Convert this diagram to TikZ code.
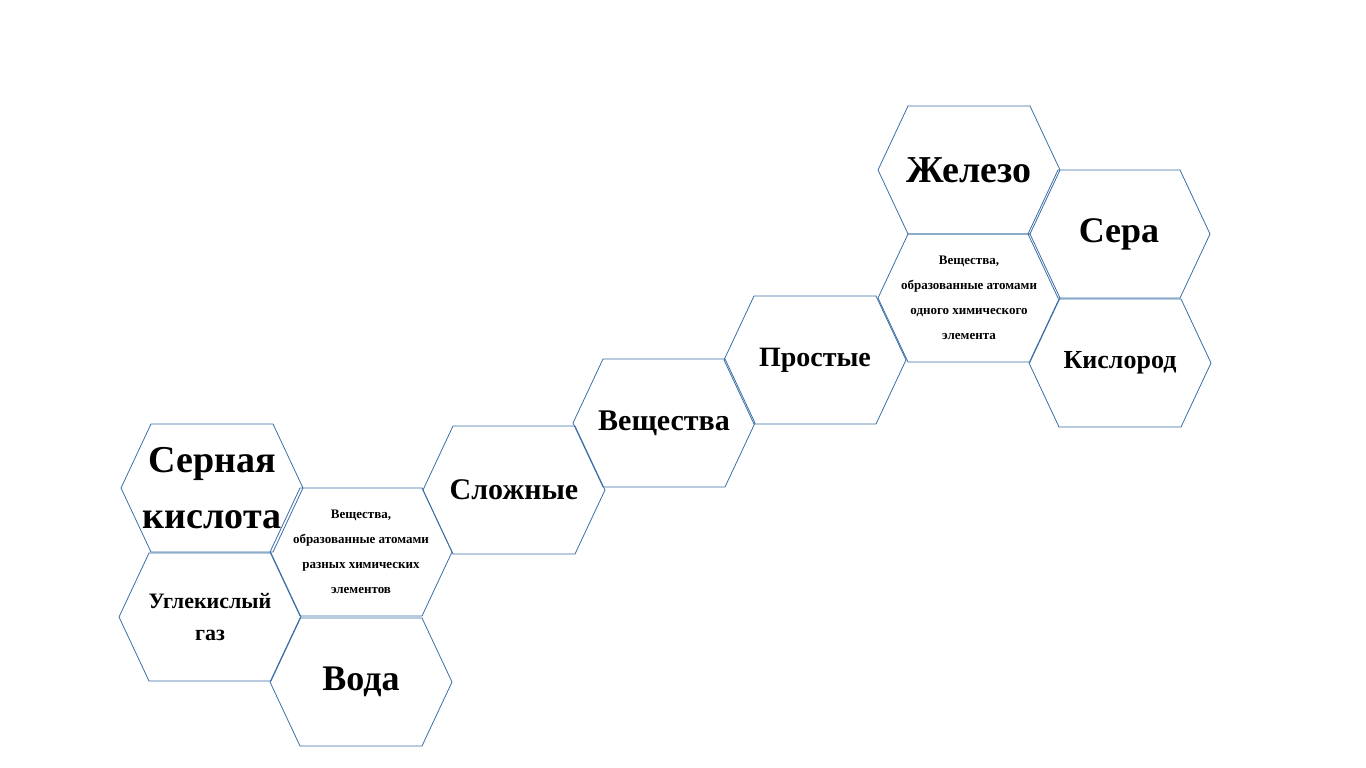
\documentclass[tikz,border=0pt]{standalone}
\usepackage{fontspec}
\setmainfont{Liberation Serif}
\begin{document}
\begin{tikzpicture}[x=1pt,y=-1pt,
  hexa/.style={draw=hexblue,line width=0.8pt},
  lbl/.style={align=center,text=black}]
\definecolor{hexblue}{HTML}{3A6EA5}
\useasboundingbox (0,0) rectangle (1366,768);
\newcommand{\hexa}[6]{%
  \draw[hexa] (#1-91,#2) -- (#1-61,#2-64) -- (#1+61,#2-64) -- (#1+91,#2) -- (#1+61,#2+64) -- (#1-61,#2+64) -- cycle;
  \node[lbl,font=\bfseries\fontsize{#3}{#4}\selectfont] (#5) at (#1,#2) {#6};}
\hexa{969}{170}{38}{44}{iron}{Железо}
\hexa{1119}{234}{36}{42}{sulfur}{Сера}
\hexa{1120}{363}{26}{30}{oxy}{Кислород}
\hexa{969}{298}{13}{25}{simpdef}{Вещества,\\образованные атомами\\одного химического\\элемента}
\hexa{815}{360}{28}{32}{simple}{Простые}
\hexa{664}{423}{30}{34}{subst}{Вещества}
\hexa{514}{490}{30}{34}{complex}{Сложные}
\hexa{361}{552}{13}{25}{compdef}{Вещества,\\образованные атомами\\разных химических\\элементов}
\hexa{212}{488}{38}{56}{acid}{Серная\\кислота}
\hexa{210}{617}{22}{32}{co2}{Углекислый\\газ}
\hexa{361}{682}{36}{42}{water}{Вода}
\end{tikzpicture}
\end{document}
